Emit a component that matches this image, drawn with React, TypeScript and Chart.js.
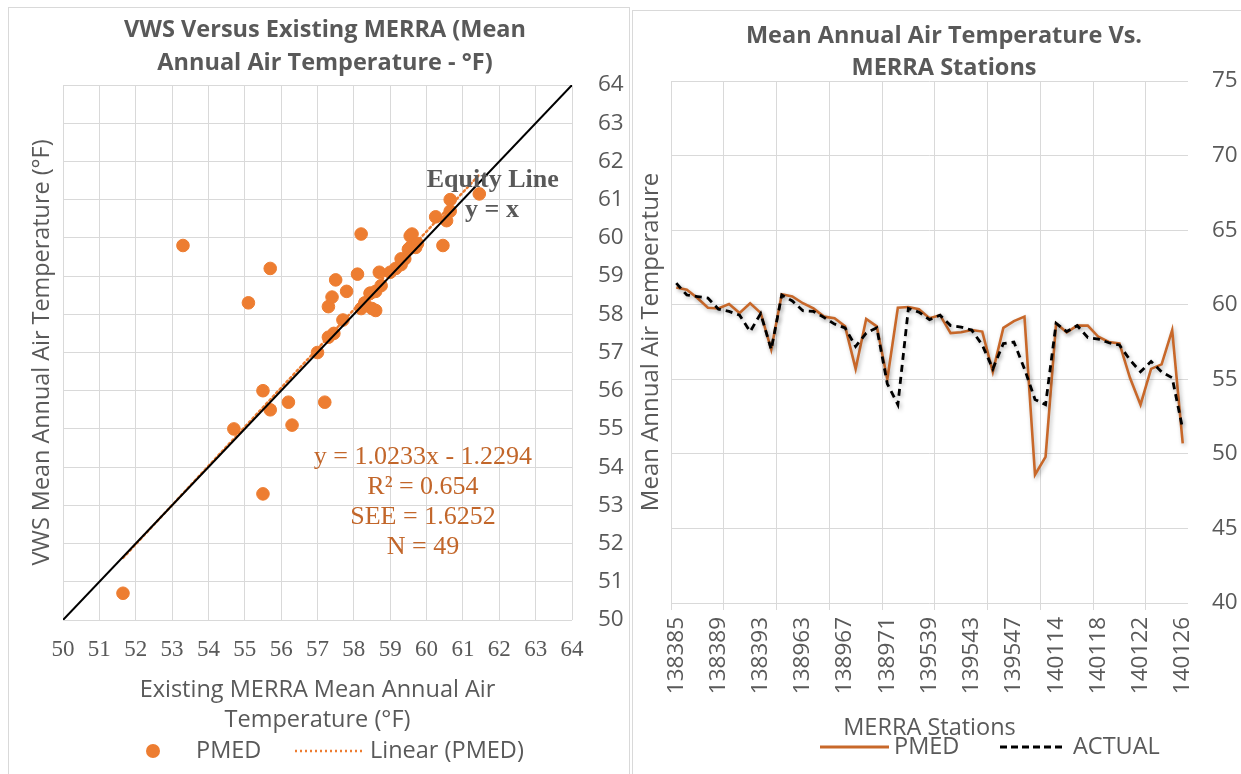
import React, { useEffect, useRef } from 'react';
import { Chart, registerables } from 'chart.js';

Chart.register(...registerables);

// ---------- data ----------
const STATIONS = [
  '138385', '138386', '138387', '138388', '138389', '138390', '138391', '138392', '138393',
  '138960', '138961', '138962',
  '138963', '138964', '138965', '138966', '138967', '138968', '138969', '138970', '138971',
  '139536', '139537', '139538',
  '139539', '139540', '139541', '139542', '139543', '139544', '139545', '139546', '139547',
  '140111', '140112', '140113',
  '140114', '140115', '140116', '140117', '140118', '140119', '140120', '140121', '140122',
  '140123', '140124', '140125', '140126',
];

const PMED = [
  61.15, 61.0, 60.45, 59.8, 59.75, 60.05, 59.45, 60.1, 59.45, 57.0,
  60.7, 60.55, 60.1, 59.75, 59.2, 59.1, 58.55, 55.7, 59.05, 58.55,
  55.0, 59.8, 59.85, 59.7, 59.1, 59.3, 58.1, 58.15, 58.3, 58.2,
  55.5, 58.45, 58.9, 59.2, 48.6, 49.8, 58.75, 58.15, 58.6, 58.6,
  57.85, 57.5, 57.4, 55.1, 53.3, 55.7, 56.0, 58.3, 50.7,
];

const ACTUAL = [
  61.45, 60.65, 60.55, 60.45, 59.7, 59.55, 59.3, 58.2, 59.4, 57.0,
  60.65, 60.25, 59.6, 59.55, 59.15, 58.7, 58.45, 57.2, 58.1, 58.45,
  54.7, 53.3, 59.75, 59.5, 59.0, 59.3, 58.6, 58.5, 58.3, 57.3,
  55.7, 57.4, 57.5, 55.7, 53.65, 53.3, 58.75, 58.2, 58.6, 57.8,
  57.7, 57.45, 57.3, 56.3, 55.5, 56.2, 55.5, 55.1, 51.65,
];

const SCATTER_MIN = 50;
const SCATTER_MAX = 64;
const LINE_Y_MIN = 40;
const LINE_Y_MAX = 75;

const TREND_SLOPE = 1.0233;
const TREND_INTERCEPT = -1.2294;

const LEFT_TITLE = ['VWS Versus Existing MERRA (Mean', 'Annual Air Temperature - °F)'];
const RIGHT_TITLE = ['Mean Annual Air Temperature Vs.', 'MERRA Stations'];
const LEFT_X_TITLE = ['Existing MERRA Mean Annual Air', 'Temperature (°F)'];
const LEFT_Y_TITLE = 'VWS Mean Annual Air Temperature (°F)';
const RIGHT_X_TITLE = 'MERRA Stations';
const RIGHT_Y_TITLE = 'Mean Annual Air Temperature';
const REG_TEXT = ['y = 1.0233x - 1.2294', 'R² = 0.654', 'SEE = 1.6252', 'N = 49'];

// ---------- styles ----------
const SANS = '"Open Sans", "Noto Sans", sans-serif';
const SERIF = 'Liberation Serif';
const TEXT = '#595959';
const GRID = '#d9d9d9';
const DOT = '#ED7D31';
const PMED_LINE = '#C8682A';
const REG_COLOR = '#C2662A';

function ScatterPanel() {
  const ref = useRef<HTMLCanvasElement>(null);
  useEffect(() => {
    const canvas = ref.current;
    if (!canvas) return;
    const points = ACTUAL.map((a, i) => ({ x: a, y: PMED[i] }));
    const lo = Math.min(...ACTUAL);
    const hi = Math.max(...ACTUAL);
    const trend = [lo, hi].map((x) => ({ x, y: TREND_SLOPE * x + TREND_INTERCEPT }));
    const equity = [
      { x: SCATTER_MIN, y: SCATTER_MIN },
      { x: SCATTER_MAX, y: SCATTER_MAX },
    ];

    const textPlugin = {
      id: 'scatterText',
      afterDatasetsDraw(chart: any) {
        const { ctx, scales } = chart;
        const sx = scales.x;
        const sy = scales.y;
        ctx.save();
        ctx.textAlign = 'center';
        ctx.textBaseline = 'middle';
        ctx.fillStyle = TEXT;
        ctx.font = `bold 26px "${SERIF}", serif`;
        ctx.fillText('Equity Line', sx.getPixelForValue(61.82), sy.getPixelForValue(61.5));
        ctx.fillText('y = x', sx.getPixelForValue(61.8), sy.getPixelForValue(60.73));
        ctx.fillStyle = REG_COLOR;
        ctx.font = `26px "${SERIF}", serif`;
        const cx = sx.getPixelForValue(59.9);
        const cy = sy.getPixelForValue(54.27);
        REG_TEXT.forEach((t, i) => ctx.fillText(t, cx, cy + i * 30));
        ctx.restore();
      },
      afterDraw(chart: any) {
        const { ctx } = chart;
        ctx.save();
        ctx.textAlign = 'center';
        ctx.textBaseline = 'middle';
        ctx.fillStyle = TEXT;
        ctx.font = `bold 23.5px ${SANS}`;
        ctx.fillText(LEFT_TITLE[0], 325, 30);
        ctx.fillText(LEFT_TITLE[1], 325, 63);
        // legend
        const ly = 751;
        ctx.fillStyle = DOT;
        ctx.beginPath();
        ctx.arc(153, ly, 7, 0, Math.PI * 2);
        ctx.fill();
        ctx.strokeStyle = DOT;
        ctx.lineWidth = 2.5;
        ctx.setLineDash([2, 3]);
        ctx.beginPath();
        ctx.moveTo(295, ly);
        ctx.lineTo(362, ly);
        ctx.stroke();
        ctx.setLineDash([]);
        ctx.fillStyle = TEXT;
        ctx.font = `23.5px ${SANS}`;
        ctx.textAlign = 'left';
        ctx.fillText('PMED', 196, ly);
        ctx.fillText('Linear (PMED)', 370, ly);
        ctx.restore();
      },
    };

    const chart = new Chart(canvas, {
      type: 'scatter',
      data: {
        datasets: [
          {
            label: 'Equity Line',
            data: equity,
            showLine: true,
            borderColor: '#000000',
            borderWidth: 2,
            pointRadius: 0,
            yAxisID: 'y',
          },
          {
            label: 'Linear (PMED)',
            data: trend,
            showLine: true,
            borderColor: DOT,
            borderWidth: 2.5,
            borderDash: [2, 3],
            borderCapStyle: 'round',
            pointRadius: 0,
            yAxisID: 'y',
          },
          {
            label: 'PMED',
            data: points,
            backgroundColor: DOT,
            borderColor: DOT,
            pointRadius: 6.3,
            yAxisID: 'y',
          },
        ],
      } as any,
      options: {
        responsive: false,
        animation: false,
        layout: { padding: { top: 85, left: 0, right: 0, bottom: 0 } },
        plugins: {
          legend: { display: false },
          tooltip: { enabled: false },
          title: { display: false },
        },
        scales: {
          x: {
            type: 'linear',
            min: SCATTER_MIN,
            max: SCATTER_MAX,
            ticks: { stepSize: 1, color: TEXT, font: { family: SERIF, size: 23 }, padding: 16 },
            grid: { color: GRID, drawTicks: false },
            border: { display: false },
            title: {
              display: true,
              text: LEFT_X_TITLE,
              color: TEXT,
              font: { family: SANS, size: 23.5, lineHeight: 30 / 23.5 },
              padding: { top: 0, bottom: 39 },
            },
            afterFit: (s: any) => {
              s.height = 154;
            },
          },
          y: {
            position: 'left',
            min: SCATTER_MIN,
            max: SCATTER_MAX,
            ticks: { stepSize: 1, display: false },
            grid: { color: GRID, drawTicks: false },
            border: { display: false },
            title: {
              display: true,
              text: LEFT_Y_TITLE,
              color: TEXT,
              font: { family: SANS, size: 23.4, lineHeight: 1.2 },
              padding: { top: 28, bottom: 0 },
            },
            afterFit: (s: any) => {
              s.width = 63;
            },
          },
          y2: {
            position: 'right',
            min: SCATTER_MIN,
            max: SCATTER_MAX,
            ticks: { stepSize: 1, color: TEXT, font: { family: SANS, size: 22.5 }, padding: 26 },
            grid: { display: false, drawTicks: false },
            border: { display: false },
            afterFit: (s: any) => {
              s.width = 58;
            },
          },
        },
      } as any,
      plugins: [textPlugin],
    });
    return () => chart.destroy();
  }, []);
  return (
    <canvas
      ref={ref}
      width={630}
      height={774}
      style={{ position: 'absolute', left: 0, top: 0, width: 630, height: 774 }}
    />
  );
}

function LinePanel() {
  const ref = useRef<HTMLCanvasElement>(null);
  useEffect(() => {
    const canvas = ref.current;
    if (!canvas) return;

    const shadowPlugin = {
      id: 'lineShadow',
      beforeDatasetsDraw(chart: any) {
        const { ctx } = chart;
        ctx.save();
        ctx.shadowColor = 'rgba(0,0,0,0.28)';
        ctx.shadowBlur = 4;
        ctx.shadowOffsetX = 1.5;
        ctx.shadowOffsetY = 2;
      },
      afterDatasetsDraw(chart: any) {
        chart.ctx.restore();
      },
    };

    const textPlugin = {
      id: 'lineText',
      afterDraw(chart: any) {
        const { ctx } = chart;
        ctx.save();
        ctx.textAlign = 'center';
        ctx.textBaseline = 'middle';
        ctx.fillStyle = TEXT;
        ctx.font = `bold 23.5px ${SANS}`;
        ctx.fillText(RIGHT_TITLE[0], 314, 36);
        ctx.fillText(RIGHT_TITLE[1], 314, 68);
        const ly = 747;
        ctx.lineWidth = 2.8;
        ctx.strokeStyle = PMED_LINE;
        ctx.beginPath();
        ctx.moveTo(190, ly);
        ctx.lineTo(259, ly);
        ctx.stroke();
        ctx.strokeStyle = '#000000';
        ctx.setLineDash([7, 4]);
        ctx.beginPath();
        ctx.moveTo(370, ly);
        ctx.lineTo(432, ly);
        ctx.stroke();
        ctx.setLineDash([]);
        ctx.textAlign = 'left';
        ctx.font = `23.5px ${SANS}`;
        ctx.fillText('PMED', 264, ly);
        ctx.fillText('ACTUAL', 443, ly);
        ctx.restore();
      },
    };

    const chart = new Chart(canvas, {
      type: 'line',
      data: {
        labels: STATIONS,
        datasets: [
          {
            label: 'PMED',
            data: PMED,
            borderColor: PMED_LINE,
            borderWidth: 2.6,
            pointRadius: 0,
            tension: 0,
            order: 1,
            yAxisID: 'y',
          },
          {
            label: 'ACTUAL',
            data: ACTUAL,
            borderColor: '#000000',
            borderWidth: 2.8,
            borderDash: [7, 5],
            pointRadius: 0,
            tension: 0,
            order: 0,
            yAxisID: 'y',
          },
        ],
      },
      options: {
        responsive: false,
        animation: false,
        layout: { padding: { top: 81, left: 0, right: 0, bottom: 0 } },
        plugins: {
          legend: { display: false },
          tooltip: { enabled: false },
          title: { display: false },
        },
        scales: {
          x: {
            type: 'category',
            offset: true,
            grid: {
              offset: true,
              color: (ctx: any) =>
                typeof ctx.index === 'number' && ctx.index % 5 === 0 ? GRID : 'rgba(0,0,0,0)',
              drawTicks: true,
              tickLength: 7,
            },
            border: { display: false },
            ticks: {
              autoSkip: false,
              maxRotation: 90,
              minRotation: 90,
              color: TEXT,
              font: { family: SANS, size: 22.5 },
              padding: 7,
              callback: (_v: any, i: number) => (i % 4 === 0 ? STATIONS[i] : ''),
            },
            title: {
              display: true,
              text: RIGHT_X_TITLE,
              color: TEXT,
              font: { family: SANS, size: 23.5 },
              padding: { top: 0, bottom: 32 },
            },
            afterFit: (s: any) => {
              s.height = 171;
            },
          },
          y: {
            position: 'left',
            min: LINE_Y_MIN,
            max: LINE_Y_MAX,
            ticks: { stepSize: 5, display: false },
            grid: { color: GRID, drawTicks: false },
            border: { display: false },
            title: {
              display: true,
              text: RIGHT_Y_TITLE,
              color: TEXT,
              font: { family: SANS, size: 24, lineHeight: 1.2 },
              padding: { top: 7, bottom: 0 },
            },
            afterFit: (s: any) => {
              s.width = 41;
            },
          },
          y2: {
            position: 'right',
            min: LINE_Y_MIN,
            max: LINE_Y_MAX,
            ticks: { stepSize: 5, color: TEXT, font: { family: SANS, size: 22.5 }, padding: 24 },
            grid: { display: false, drawTicks: false },
            border: { display: false },
            afterFit: (s: any) => {
              s.width = 53;
            },
          },
        },
      } as any,
      plugins: [shadowPlugin, textPlugin],
    });
    return () => chart.destroy();
  }, []);
  return (
    <canvas
      ref={ref}
      width={611}
      height={774}
      style={{ position: 'absolute', left: 630, top: 0, width: 611, height: 774 }}
    />
  );
}

export default function App() {
  return (
    <div
      style={{
        position: 'absolute',
        left: 0,
        top: 0,
        width: 1241,
        height: 774,
        background: '#ffffff',
        overflow: 'hidden',
      }}
    >
      <div
        style={{
          position: 'absolute',
          left: 8,
          top: 7,
          width: 620,
          height: 800,
          border: `1px solid ${GRID}`,
        }}
      />
      <div
        style={{
          position: 'absolute',
          left: 632,
          top: 10,
          width: 640,
          height: 800,
          border: `1px solid ${GRID}`,
        }}
      />
      <ScatterPanel />
      <LinePanel />
    </div>
  );
}
